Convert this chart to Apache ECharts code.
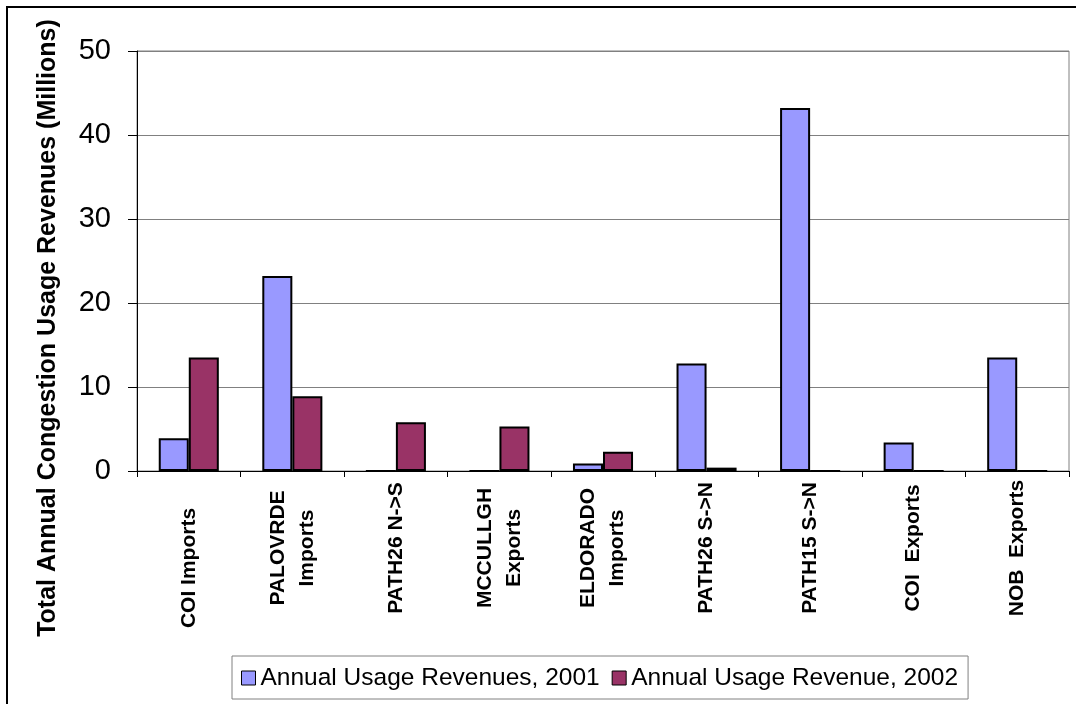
<!DOCTYPE html>
<html>
<head>
<meta charset="utf-8">
<script src="https://cdn.jsdelivr.net/npm/echarts@6/dist/echarts.min.js"></script>
<style>
html,body{margin:0;padding:0;background:#fff;}
#chart{width:1076px;height:704px;}
</style>
</head>
<body>
<div id="chart"></div>
<script>
var categories = ['COI Imports', 'PALOVRDE\nImports', 'PATH26 N->S', 'MCCULLGH\nExports', 'ELDORADO\nImports', 'PATH26 S->N', 'PATH15 S->N', 'COI  Exports', 'NOB  Exports'];
var revenues2001 = [3.9, 23.2, 0, 0, 0.9, 12.8, 43.2, 3.4, 13.5];
var revenues2002 = [13.5, 8.9, 5.8, 5.3, 2.3, 0.4, 0, 0, 0];
var seriesNames = ['Annual Usage Revenues, 2001', 'Annual Usage Revenue, 2002'];
var yTitle = 'Total Annual Congestion Usage Revenues (Millions)';

var FONT = 'Arial, "Liberation Sans", sans-serif';
var chart = echarts.init(document.getElementById('chart'), null, {renderer: 'canvas'});

var catData = categories.map(function (c, i) {
  if (i === 0) return {value: c, textStyle: {align: 'center', verticalAlign: 'middle', padding: [0, 40, 0, 0]}};
  return c;
});

chart.setOption({
  animation: false,
  backgroundColor: '#ffffff',
  grid: {left: 137, right: 7, top: 51, bottom: 233, show: true, borderColor: '#808080', borderWidth: 1,
         backgroundColor: 'transparent', containLabel: false, outerBoundsMode: 'none'},
  graphic: [
    {type: 'rect', shape: {x: 7, y: 7, width: 1090, height: 720}, style: {fill: 'none', stroke: '#000', lineWidth: 2}, silent: true},
    {type: 'text', x: 48, y: 328, rotation: Math.PI / 2,
     style: {text: yTitle, font: 'bold 25px ' + FONT, fill: '#000', textAlign: 'center', textVerticalAlign: 'middle'}}
  ],
  legend: {
    left: 232, top: 656,
    padding: [8, 10, 7, 9],
    itemGap: 12,
    itemWidth: 14, itemHeight: 14,
    borderColor: '#808080', borderWidth: 1,
    icon: 'rect',
    itemStyle: {borderColor: '#000', borderWidth: 1},
    textStyle: {fontFamily: FONT, fontSize: 24.5, color: '#000', lineHeight: 28},
    data: seriesNames
  },
  xAxis: {
    type: 'category',
    data: catData,
    axisLine: {lineStyle: {color: '#000', width: 1}},
    axisTick: {show: true, length: 6, alignWithLabel: false, lineStyle: {color: '#000'}},
    axisLabel: {interval: 0, rotate: 90, align: 'center', verticalAlign: 'middle', margin: 77,
      fontFamily: FONT, fontWeight: 'bold', fontSize: 21, color: '#000', lineHeight: 29},
    splitLine: {show: false}
  },
  yAxis: {
    type: 'value', min: 0, max: 50, interval: 10,
    axisLine: {show: true, lineStyle: {color: '#000', width: 1}},
    axisTick: {show: true, length: 9, lineStyle: {color: '#000'}},
    axisLabel: {fontFamily: FONT, fontSize: 29, color: '#000', margin: 26},
    splitLine: {show: true, lineStyle: {color: '#808080', width: 1}}
  },
  series: [
    {name: seriesNames[0], type: 'bar', data: revenues2001, barGap: '0%', barCategoryGap: '42%',
     itemStyle: {color: '#9999FF', borderColor: '#000', borderWidth: 2}},
    {name: seriesNames[1], type: 'bar', data: revenues2002, barGap: '0%', barCategoryGap: '42%',
     itemStyle: {color: '#993366', borderColor: '#000', borderWidth: 2}}
  ]
});
</script>
</body>
</html>
